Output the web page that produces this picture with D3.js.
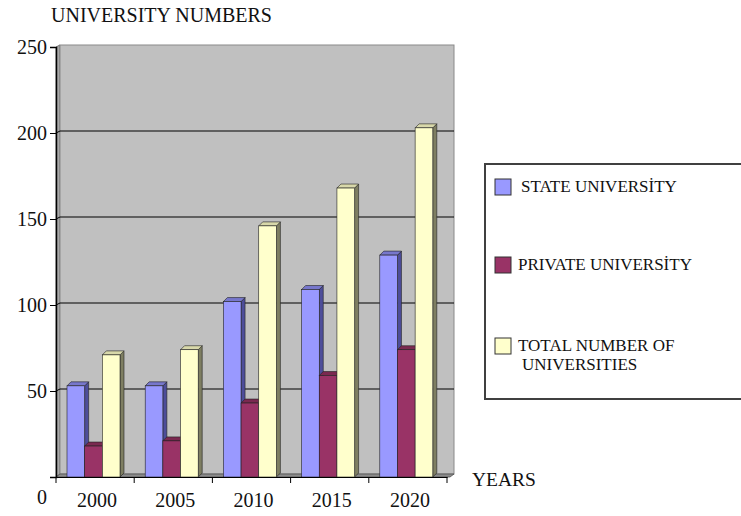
<!DOCTYPE html>
<html>
<head>
<meta charset="utf-8">
<script src="https://cdn.jsdelivr.net/npm/d3@7"></script>
<style>
  body { margin: 0; background: #fff; }
  svg text { font-family: "Liberation Serif", Tinos, "Times New Roman", Times, "DejaVu Serif", serif; fill: #111; }
</style>
</head>
<body>
<div id="chart"></div>
<script>
const years = ["2000", "2005", "2010", "2015", "2020"];
const series = ["state", "private", "total"];
const stateValues = [53, 53, 102, 109, 129];
const privateValues = [18, 21, 43, 59, 74];
const totalValues = [71, 74, 146, 168, 203];
const yTicks = [0, 50, 100, 150, 200, 250];
const legendLabels = [["STATE UNIVERSİTY"], ["PRIVATE UNIVERSİTY"], ["TOTAL NUMBER OF", "UNIVERSITIES"]];

const colors = {
    state:   { front: "#9999ff", side: "#4d4d9a", top: "#7777cc" },
    private: { front: "#993366", side: "#5e1f3f", top: "#7a2950" },
    total:   { front: "#ffffcc", side: "#7e7e62", top: "#d8d8aa" }
};
const serif = "'Liberation Serif', Tinos, 'Times New Roman', Times, 'DejaVu Serif', serif";

function chart() {
    const width = 741, height = 516;
    const dx = 4, dy = 4;       // 3D depth offset
    const wallDx = 4, wallDy = 2;

    const svg = d3.create("svg")
        .attr("width", width)
        .attr("height", height)
        .attr("font-family", serif);

    const y = d3.scaleLinear().domain([0, 250]).range([477, 47]);
    const x0 = d3.scaleBand().domain(years).range([56, 447]);
    const x1 = d3.scaleBand().domain(series).range([11, 64]);

    const values = { state: stateValues, private: privateValues, total: totalValues };
    const rows = years.map((yr, i) => ({ year: yr, bars: series.map(s => ({ key: s, value: values[s][i] })) }));

    const left = x0.range()[0], right = x0.range()[1];
    const y0 = y(0), yTop = y(250);

    // side wall, back wall, floor
    svg.append("polygon")
        .attr("points", [[left, yTop], [left + wallDx, yTop - wallDy], [left + wallDx, y0 - wallDy - 1], [left, y0]].join(" "))
        .attr("fill", "#a9a9a9").attr("stroke", "#707070").attr("stroke-width", 1);
    svg.append("rect")
        .attr("x", left + wallDx).attr("y", yTop - wallDy)
        .attr("width", right - left + 3).attr("height", y0 - yTop - 1)
        .attr("fill", "#c0c0c0").attr("stroke", "#8a8a8a").attr("stroke-width", 1);

    // gridlines on wall
    const grid = svg.append("g").attr("stroke", "#000").attr("stroke-width", 1);
    grid.selectAll("line.g")
        .data(yTicks.filter(d => d > 0 && d < 250))
        .join("line")
        .attr("x1", left + wallDx).attr("x2", right + wallDx + 3)
        .attr("y1", d => y(d) - wallDy).attr("y2", d => y(d) - wallDy);
    grid.selectAll("line.c")
        .data(yTicks.filter(d => d > 0 && d < 250))
        .join("line")
        .attr("x1", left).attr("x2", left + wallDx)
        .attr("y1", d => y(d)).attr("y2", d => y(d) - wallDy);

    svg.append("polygon")
        .attr("points", [[left, y0], [right + 3, y0], [right + wallDx + 3, y0 - wallDy - 1], [left + wallDx, y0 - wallDy - 1]].join(" "))
        .attr("fill", "#8c8c8c").attr("stroke", "#505050").attr("stroke-width", 0.8);

    // bars
    const group = svg.append("g")
        .selectAll("g")
        .data(rows)
        .join("g")
        .attr("transform", d => `translate(${x0(d.year)},0)`);

    const bar = group.selectAll("g")
        .data(d => d.bars)
        .join("g");

    const w = x1.bandwidth();
    bar.append("polygon")
        .attr("points", d => {
            const bx = x1(d.key) + w, by = y(d.value);
            return [[bx, by], [bx + dx, by - dy], [bx + dx, y0 - dy], [bx, y0]].join(" ");
        })
        .attr("fill", d => colors[d.key].side)
        .attr("stroke", "#222").attr("stroke-width", 0.6);
    bar.append("polygon")
        .attr("points", d => {
            const bx = x1(d.key), by = y(d.value);
            return [[bx, by], [bx + dx, by - dy], [bx + w + dx, by - dy], [bx + w, by]].join(" ");
        })
        .attr("fill", d => colors[d.key].top)
        .attr("stroke", "#222").attr("stroke-width", 0.6);
    bar.append("rect")
        .attr("x", d => x1(d.key))
        .attr("y", d => y(d.value))
        .attr("width", w)
        .attr("height", d => y0 - y(d.value))
        .attr("fill", d => colors[d.key].front)
        .attr("stroke", "#222").attr("stroke-width", 0.6);

    // y axis
    const yAxis = svg.append("g")
        .attr("transform", `translate(${left},0)`)
        .call(d3.axisLeft(y).tickValues(yTicks).tickSize(6).tickPadding(3));
    yAxis.attr("font-family", serif);
    yAxis.select(".domain").attr("stroke", "#000").attr("stroke-width", 1.5);
    yAxis.selectAll("text")
        .style("font-family", serif).attr("font-size", 20).attr("fill", "#111");
    yAxis.selectAll(".tick").filter(d => d === 0).select("line").remove();
    yAxis.selectAll(".tick").filter(d => d === 0).select("text")
        .attr("x", -9).attr("dy", "1.3em");

    // x axis
    const xAxis = svg.append("g")
        .attr("transform", `translate(0,${y0})`)
        .call(d3.axisBottom(x0).tickSize(0).tickPadding(16));
    xAxis.attr("font-family", serif);
    xAxis.select(".domain").attr("stroke", "#000").attr("stroke-width", 1.2);
    xAxis.selectAll("text")
        .style("font-family", serif).attr("font-size", 20).attr("fill", "#111")
        .attr("dx", 2);
    xAxis.selectAll("line.sep")
        .data(years.concat(["end"]))
        .join("line")
        .attr("class", "sep")
        .attr("x1", d => d === "end" ? right : x0(d))
        .attr("x2", d => d === "end" ? right : x0(d))
        .attr("y1", 0).attr("y2", 6)
        .attr("stroke", "#000");

    // titles
    svg.append("text")
        .attr("x", 51).attr("y", 22)
        .attr("font-size", 20)
        .text("UNIVERSITY NUMBERS");
    svg.append("text")
        .attr("x", 472).attr("y", 486)
        .attr("font-size", 19.5)
        .text("YEARS");

    // legend
    const legend = svg.append("g");
    legend.append("rect")
        .attr("x", 485).attr("y", 164)
        .attr("width", 270).attr("height", 235)
        .attr("fill", "#fff").attr("stroke", "#404040").attr("stroke-width", 2);

    const legendY = [179, 257, 338];
    const textX = [521, 518, 518];
    const item = legend.selectAll("g")
        .data(series)
        .join("g")
        .attr("transform", (d, i) => `translate(495,${legendY[i]})`);
    item.append("rect")
        .attr("width", 16).attr("height", 16)
        .attr("fill", d => colors[d].front)
        .attr("stroke", "#333").attr("stroke-width", 1);
    item.append("text")
        .attr("font-size", 17)
        .selectAll("tspan")
        .data((d, i) => legendLabels[i].map((t, j) => ({ t, j, i })))
        .join("tspan")
        .attr("x", d => textX[d.i] - 495 + (d.j ? 4 : 0))
        .attr("y", d => d.j ? 32 : 13)
        .text(d => d.t);

    return svg.node();
}

document.getElementById("chart").appendChild(chart());
</script>
</body>
</html>
